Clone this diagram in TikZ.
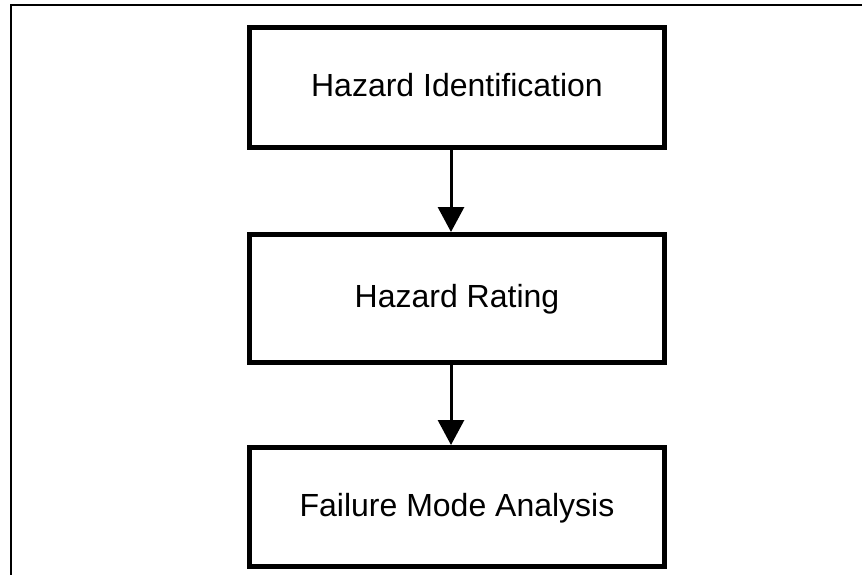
\documentclass[tikz,border=0pt]{standalone}
\usepackage{fontspec}
\setmainfont{Liberation Sans}
\usetikzlibrary{arrows.meta}
\begin{document}
\begin{tikzpicture}[x=1pt,y=-1pt,
  stagebox/.style={draw=black,line width=5pt,rectangle,minimum width=415pt,inner sep=0pt,text height=23pt,text depth=5pt,font=\fontsize{32}{38}\selectfont},
  flowarrow/.style={line width=3pt,-{Triangle[width=26pt,length=25pt]}}]
\useasboundingbox (0,0) rectangle (862,575);
\draw[line width=1.5pt] (11,575) -- (11,5) -- (862,5);
\node[stagebox,minimum height=120pt] (hid) at (457,87.5) {Hazard Identification};
\node[stagebox,minimum height=128pt] (hr) at (457,298.5) {Hazard Rating};
\node[stagebox,minimum height=119pt] (fma) at (457,507) {Failure Mode Analysis};
\draw[flowarrow] (hid.south -| 451,0) -- (hr.north -| 451,0);
\draw[flowarrow] (hr.south -| 451,0) -- (fma.north -| 451,0);
\end{tikzpicture}
\end{document}
